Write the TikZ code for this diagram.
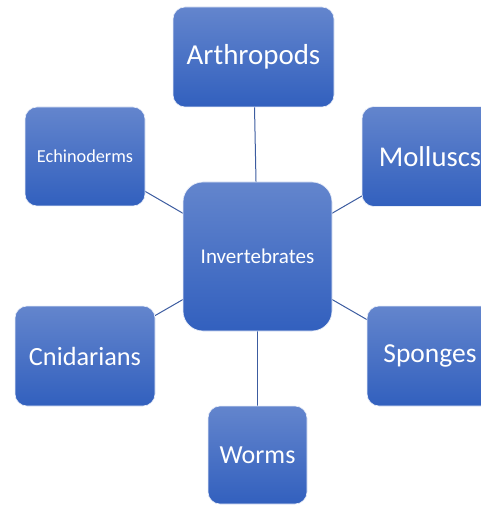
\documentclass[tikz,border=0pt]{standalone}
\usepackage{fontspec}
\setmainfont{Carlito}
\usepackage{tikz}
\usetikzlibrary{arrows.meta,positioning,calc}
\definecolor{boxtop}{RGB}{99,133,205}
\definecolor{boxbot}{RGB}{50,96,190}
\definecolor{linkblue}{RGB}{60,92,160}
\tikzset{
  taxon/.style={draw=white!85!boxtop, line width=0.5pt, rounded corners=9pt,
    top color=boxtop, bottom color=boxbot, text=white, align=center,
    inner sep=0pt},
  link/.style={draw=linkblue, line width=0.75pt}
}

\begin{document}
\begin{tikzpicture}[x=0.75pt, y=-0.75pt]
    \useasboundingbox (0,0) rectangle (480,505);
    % links, drawn first
    \coordinate (cInv) at (257.5,256.5);
    \coordinate (cArth) at (253.5,57);
    \coordinate (cEchi) at (85,156.5);
    \coordinate (cMoll) at (430,156.5);
    \coordinate (cCnid) at (85,356);
    \coordinate (cSpon) at (430,356);
    \coordinate (cWorm) at (257.5,455);
    \foreach \c in {cArth,cEchi,cMoll,cCnid,cSpon,cWorm}
      \draw[link] (cInv) -- (\c);
    % centre
    \node[taxon, rounded corners=15pt, minimum width=111.75pt, minimum height=111.75pt,
      font=\fontsize{15.75}{19}\selectfont] (inv) at (cInv) {Invertebrates};
    % top
    \node[taxon, minimum width=120.75pt, minimum height=75pt,
      font=\fontsize{21.7}{26}\selectfont] (arth) at (cArth) {Arthropods};
    \node[taxon, minimum width=90pt, minimum height=74.25pt,
      font=\fontsize{13.7}{16}\selectfont] (echi) at (cEchi) {Echinoderms};
    \node[taxon, minimum width=102pt, minimum height=75pt,
      font=\fontsize{21.5}{26}\selectfont] (moll) at (cMoll) {Molluscs};
    % bottom
    \node[taxon, minimum width=105pt, minimum height=75pt,
      font=\fontsize{19.7}{24}\selectfont] (cnid) at (cCnid) {Cnidarians};
    \node[taxon, minimum width=94.5pt, minimum height=75pt,
      font=\fontsize{20.6}{25}\selectfont] (spon) at (cSpon) {Sponges};
    \node[taxon, minimum width=74.25pt, minimum height=73.5pt,
      font=\fontsize{19.5}{24}\selectfont] (worm) at (cWorm) {Worms};
  \end{tikzpicture}
\end{document}
